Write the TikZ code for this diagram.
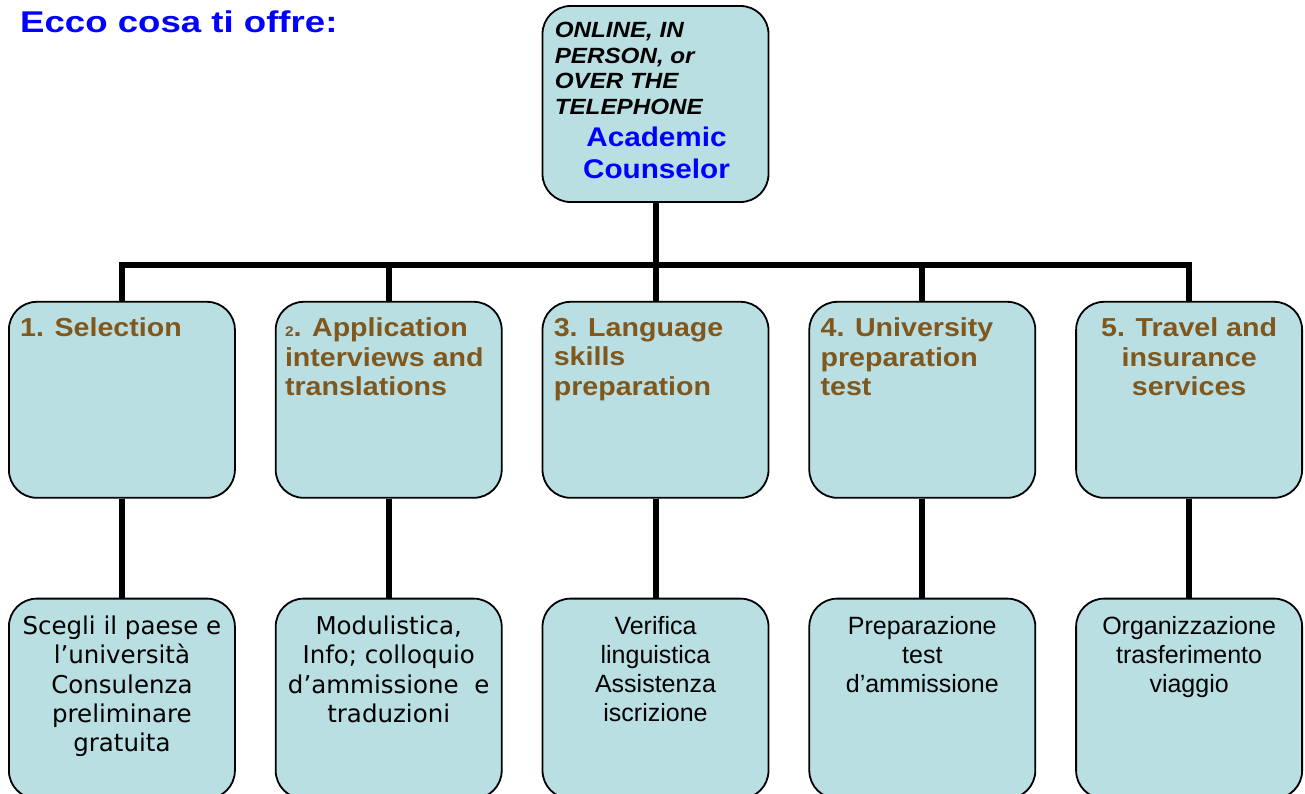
\documentclass[tikz,border=0pt]{standalone}
\usepackage{fontspec}
\setmainfont{Liberation Sans}
\newfontfamily\headfont[FakeStretch=1.1]{Liberation Sans}
\newfontfamily\titlefont[FakeStretch=1.22]{Liberation Sans}
\newfontfamily\verdfont{DejaVu Sans}
\usetikzlibrary{positioning,calc}
\definecolor{boxfill}{RGB}{185,223,227}
\definecolor{headbrown}{RGB}{128,88,30}

\begin{document}
\begin{tikzpicture}[x=1pt,y=1pt]
\tikzstyle{card}=[rectangle, rounded corners=28pt, draw=black, line width=1.8pt, fill=boxfill, minimum width=226pt, minimum height=196pt, inner sep=0pt]
\tikzstyle{low}=[card, minimum height=200pt]
\tikzstyle{head}=[inner sep=0pt, align=left, text=headbrown, font=\headfont\bfseries\fontsize{26}{29.5}\selectfont]
\tikzstyle{body}=[inner sep=0pt, align=center, font=\verdfont\fontsize{24.5}{29.3}\selectfont]
\tikzstyle{bodyn}=[body, font=\fontsize{25}{29.3}\selectfont]
\tikzstyle{bar}=[line width=6pt]

\useasboundingbox (0,0) rectangle (1305,-793);

\node[anchor=base west, inner sep=0pt, text=blue, font=\titlefont\bfseries\fontsize{30}{34}\selectfont] (title) at (20,-32) {Ecco cosa ti offre:};

% counselor on top
\node[card] (couns) at (655.5,-104) {};
\node[anchor=north west, inner sep=0pt, align=left, font=\headfont\bfseries\itshape\fontsize{22}{25.5}\selectfont] (mode) at ([shift={(13,-17)}]couns.north west) {ONLINE, IN\\PERSON, or\\OVER THE\\TELEPHONE};
\node[anchor=north, inner sep=0pt, align=center, text=blue, font=\headfont\bfseries\fontsize{27}{32}\selectfont] (role) at ([shift={(1,-122)}]couns.north) {Academic\\Counselor};

% services
\node[card] (lang) [below=98pt of couns] {};
\node[card] (appl) [left=39pt of lang]   {};
\node[card] (sel)  [left=39pt of appl]   {};
\node[card] (univ) [right=39pt of lang]  {};
\node[card] (trav) [right=39pt of univ]  {};

\node[head, anchor=north west] (sel-h)  at ([shift={(12,-17)}]sel.north west)  {1. Selection};
\node[head, anchor=north west] (appl-h) at ([shift={(10,-17)}]appl.north west) {{\fontsize{14}{14}\selectfont 2}. Application\\interviews and\\translations};
\node[head, anchor=north west] (lang-h) at ([shift={(12,-17)}]lang.north west) {3. Language\\skills\\preparation};
\node[head, anchor=north west] (univ-h) at ([shift={(12,-17)}]univ.north west) {4. University\\preparation\\test};
\node[head, anchor=north, align=center] (trav-h) at ([yshift=-17]trav.north) {5. Travel and\\insurance\\services};

% details
\node[low] (sel-b)  [below=99pt of sel]  {};
\node[low] (appl-b) [below=99pt of appl] {};
\node[low] (lang-b) [below=99pt of lang] {};
\node[low] (univ-b) [below=99pt of univ] {};
\node[low] (trav-b) [below=99pt of trav] {};

\node[body, anchor=north]  (sel-t)  at ([yshift=-18]sel-b.north)  {Scegli il paese e\\l’università\\Consulenza\\preliminare\\gratuita};
\node[body, anchor=north]  (appl-t) at ([yshift=-18]appl-b.north) {Modulistica,\\Info; colloquio\\d’ammissione~~e\\traduzioni};
\node[bodyn, anchor=north] (lang-t) at ([yshift=-18]lang-b.north) {Verifica\\linguistica\\Assistenza\\iscrizione};
\node[bodyn, anchor=north] (univ-t) at ([yshift=-18]univ-b.north) {Preparazione\\test\\d’ammissione};
\node[bodyn, anchor=north] (trav-t) at ([yshift=-18]trav-b.north) {Organizzazione\\trasferimento\\viaggio};

% connectors
\coordinate (bus) at ([yshift=-62]couns.south);
\draw[bar] (couns.south) -- (bus);
\foreach \n in {sel,appl,lang,univ,trav} {
  \draw[bar] (bus) -| (\n.north);
  \draw[bar] (\n.south) -- (\n-b.north);
}
\end{tikzpicture}
\end{document}
